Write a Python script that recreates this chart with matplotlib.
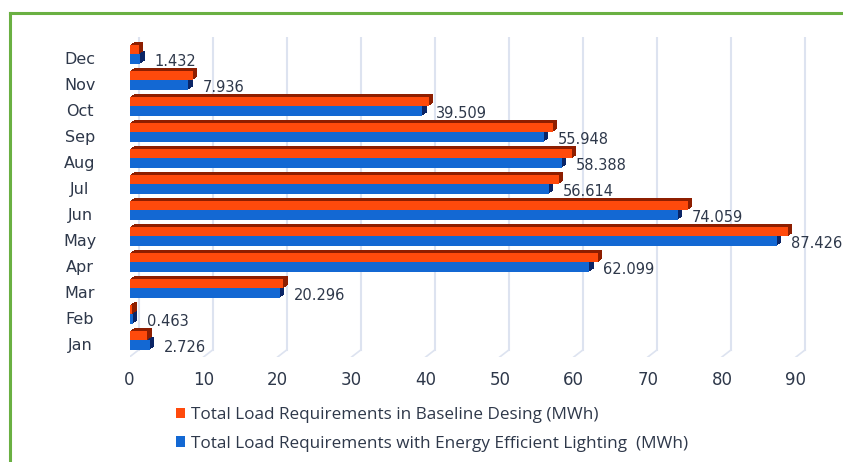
import matplotlib
matplotlib.use("Agg")
import matplotlib.pyplot as plt
import matplotlib.patheffects as pe
from matplotlib.patches import Patch
from matplotlib.lines import Line2D
from matplotlib.transforms import ScaledTranslation, blended_transform_factory

months = ['Jan', 'Feb', 'Mar', 'Apr', 'May', 'Jun', 'Jul', 'Aug', 'Sep', 'Oct', 'Nov', 'Dec']
efficient = [2.726, 0.463, 20.296, 62.099, 87.426, 74.059, 56.614, 58.388, 55.948, 39.509, 7.936, 1.432]
baseline = [2.40, 0.35, 20.78, 63.24, 88.91, 75.36, 57.95, 59.76, 57.14, 40.40, 8.52, 1.27]
x_ticks = [0, 10, 20, 30, 40, 50, 60, 70, 80, 90]
series_labels = ['Total Load Requirements in Baseline Desing (MWh)',
                 'Total Load Requirements with Energy Efficient Lighting  (MWh)']

ORANGE, ORANGE_DARK = '#ff4a0c', '#8e1e00'
BLUE, BLUE_DARK = '#1368d3', '#0b2566'
TEXT = '#2e384a'
GRID = '#dde3f0'

fig = plt.figure(figsize=(8.43, 4.62), dpi=100)
W, H = 843, 462


def px_box(left, top, right, bottom):
    return [left / W, 1 - bottom / H, (right - left) / W, (bottom - top) / H]


ax = fig.add_axes(px_box(129.5, 37, 129.5 + 93 * 7.405, 357))
ax.set_xlim(0, 93)
ax.set_ylim(-0.635, 11.673)
for s in ax.spines.values():
    s.set_visible(False)


def extrude(dark, dx=3.2, dy=2.2, steps=6):
    effects = [pe.SimplePatchShadow(offset=(dx * k / steps, dy * k / steps),
                                    shadow_rgbFace=dark, alpha=1.0)
               for k in range(steps, 0, -1)]
    return effects + [pe.Normal()]


pos = list(range(len(months)))
h = 0.35
ax.barh([p - h / 2 for p in pos], efficient, height=h, color=BLUE,
        path_effects=extrude(BLUE_DARK), zorder=3)
ax.barh([p + h / 2 for p in pos], baseline, height=h, color=ORANGE,
        path_effects=extrude(ORANGE_DARK), zorder=3)

for p, v in zip(pos, efficient):
    ax.annotate(f'{v:.3f}', (v, p - h / 2), xytext=(10.1, -1.8),
                textcoords='offset points', ha='left', va='center',
                fontsize=10.5, color=TEXT, family='DejaVu Sans', zorder=4)

# back-wall gridlines with a short slanted floor segment
back = ScaledTranslation(9 / 100, 0, fig.dpi_scale_trans)
xa = blended_transform_factory(ax.transData, ax.transAxes)
wall_bottom = 7 / 320
for t in x_ticks:
    ax.plot([t, t], [wall_bottom, 1], transform=xa + back, color=GRID, lw=1.5, zorder=1)
    ax.add_line(Line2D([t, t + 9 / 7.405], [0, wall_bottom], color=GRID, lw=1.2,
                       zorder=1, transform=xa))
# left wall edge
ax.plot([0, 0], [0, 1 - 6 / 320],
        transform=xa + ScaledTranslation(-2.5 / 100, 0, fig.dpi_scale_trans),
        color='#d5dbe6', lw=1.3, zorder=1)

ax.set_xticks(x_ticks)
ax.set_xticklabels([str(t) for t in x_ticks], fontsize=12, color=TEXT)
ax.tick_params(axis='x', length=0, pad=10)
ax.set_yticks(pos)
ax.set_yticklabels(months, fontsize=11.5, color=TEXT)
ax.tick_params(axis='y', length=0, pad=35.6)
for lab in ax.get_yticklabels():
    lab.set_ha('center')
    lab.set_transform(lab.get_transform() + ScaledTranslation(0, -3.5 / 100, fig.dpi_scale_trans))

handles = [Patch(facecolor=ORANGE), Patch(facecolor=BLUE)]
fig.legend(handles, series_labels, loc='upper left', bbox_to_anchor=(176 / W, 1 - 407 / H),
           frameon=False, handlelength=0.55, handleheight=0.6, handletextpad=0.35,
           labelspacing=0.75, borderpad=0, borderaxespad=0,
           prop={'family': 'Open Sans', 'size': 12.3}, labelcolor=TEXT)

# green frame
fig.add_artist(Line2D([9.5 / W, 1], [1 - 12.5 / H] * 2, color='#6ab042', lw=2.2,
                      transform=fig.transFigure))
fig.add_artist(Line2D([9.5 / W] * 2, [0, 1 - 12.5 / H], color='#6ab042', lw=2.2,
                      transform=fig.transFigure))

fig.savefig('out.png', dpi=100)
